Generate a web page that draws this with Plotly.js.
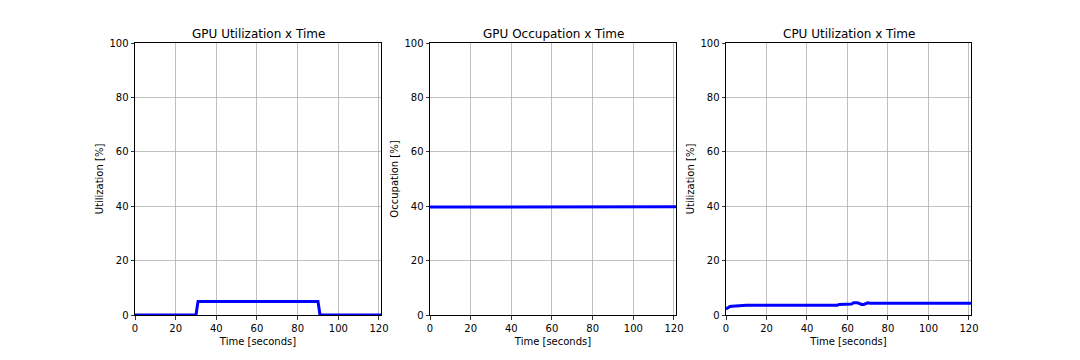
<!DOCTYPE html>
<html><head><meta charset="utf-8">
<script src="https://cdn.plot.ly/plotly-3.0.1.min.js"></script>
<style>html,body{margin:0;padding:0;background:#fff}#chart{width:1080px;height:360px}</style>
</head><body><div id="chart"></div>
<script>
const titles = ["GPU Utilization x Time", "GPU Occupation x Time", "CPU Utilization x Time"];
const yLabels = ["Utilization [%]", "Occupation [%]", "Utilization [%]"];
const xLabel = "Time [seconds]";
const xTicks = [0, 20, 40, 60, 80, 100, 120];
const yTicks = [0, 20, 40, 60, 80, 100];

const gpuUtilTime = [0, 30, 31, 90, 91, 121];
const gpuUtilVal  = [0, 0, 5, 5, 0, 0];

const gpuOccTime = [0, 30, 31, 90, 91, 121];
const gpuOccVal  = [39.7, 39.7, 39.9, 39.9, 39.8, 39.8];

const cpuTime = [0, 1, 2, 3, 5, 7, 10, 20, 30, 40, 50, 55, 56, 60, 62, 63, 65, 66, 67, 68, 69, 70, 71, 72, 80, 100, 121];
const cpuVal  = [2.2, 2.8, 3.1, 3.2, 3.3, 3.6, 3.6, 3.6, 3.6, 3.6, 3.6, 3.6, 3.9, 3.9, 4.0, 4.5, 4.5, 4.2, 3.9, 3.9, 4.3, 4.5, 4.3, 4.3, 4.3, 4.3, 4.3];

const series = [[gpuUtilTime, gpuUtilVal], [gpuOccTime, gpuOccVal], [cpuTime, cpuVal]];
const xDomains = [[135/1080, 381/1080], [430/1080, 676/1080], [726/1080, 971/1080]];
const yDomain = [45/360, 317/360];
const font = {family: "DejaVu Sans", size: 10, color: "#000"};

const traces = series.map((s, i) => ({
  x: s[0], y: s[1], type: "scatter", mode: "lines",
  line: {color: "#0000ff", width: 3},
  xaxis: i === 0 ? "x" : "x" + (i + 1),
  yaxis: i === 0 ? "y" : "y" + (i + 1),
  hoverinfo: "skip", showlegend: false
}));

const layout = {
  width: 1080, height: 360,
  margin: {l: 0, r: 0, t: 0, b: 0},
  paper_bgcolor: "#fff", plot_bgcolor: "#fff",
  font: font, showlegend: false, annotations: []
};

for (let i = 0; i < 3; i++) {
  const sx = i === 0 ? "" : String(i + 1);
  layout["xaxis" + sx] = {
    domain: xDomains[i], range: [0, 121], anchor: "y" + sx,
    tickvals: xTicks, ticktext: xTicks.map(String),
    showgrid: true, gridcolor: "#b0b0b0", gridwidth: 0.8,
    showline: true, linecolor: "#000", linewidth: 1, mirror: true,
    ticks: "outside", ticklen: 3.5, tickcolor: "#000", tickwidth: 0.8,
    zeroline: false, tickfont: font,
    title: {text: xLabel, font: font, standoff: 5}
  };
  layout["yaxis" + sx] = {
    domain: yDomain, range: [0, 100], anchor: "x" + sx,
    tickvals: yTicks, ticktext: yTicks.map(String),
    showgrid: true, gridcolor: "#b0b0b0", gridwidth: 0.8,
    showline: true, linecolor: "#000", linewidth: 1, mirror: true,
    ticks: "outside", ticklen: 3.5, tickcolor: "#000", tickwidth: 0.8,
    zeroline: false, tickfont: font,
    title: {text: yLabels[i], font: font, standoff: 3}
  };
  layout.annotations.push({
    text: titles[i], xref: "paper", yref: "paper",
    x: (xDomains[i][0] + xDomains[i][1]) / 2, y: yDomain[1],
    xanchor: "center", yanchor: "bottom", yshift: 0, showarrow: false,
    font: {family: "DejaVu Sans", size: 12, color: "#000"}
  });
}

Plotly.newPlot("chart", traces, layout, {staticPlot: true, displayModeBar: false});
</script></body></html>
